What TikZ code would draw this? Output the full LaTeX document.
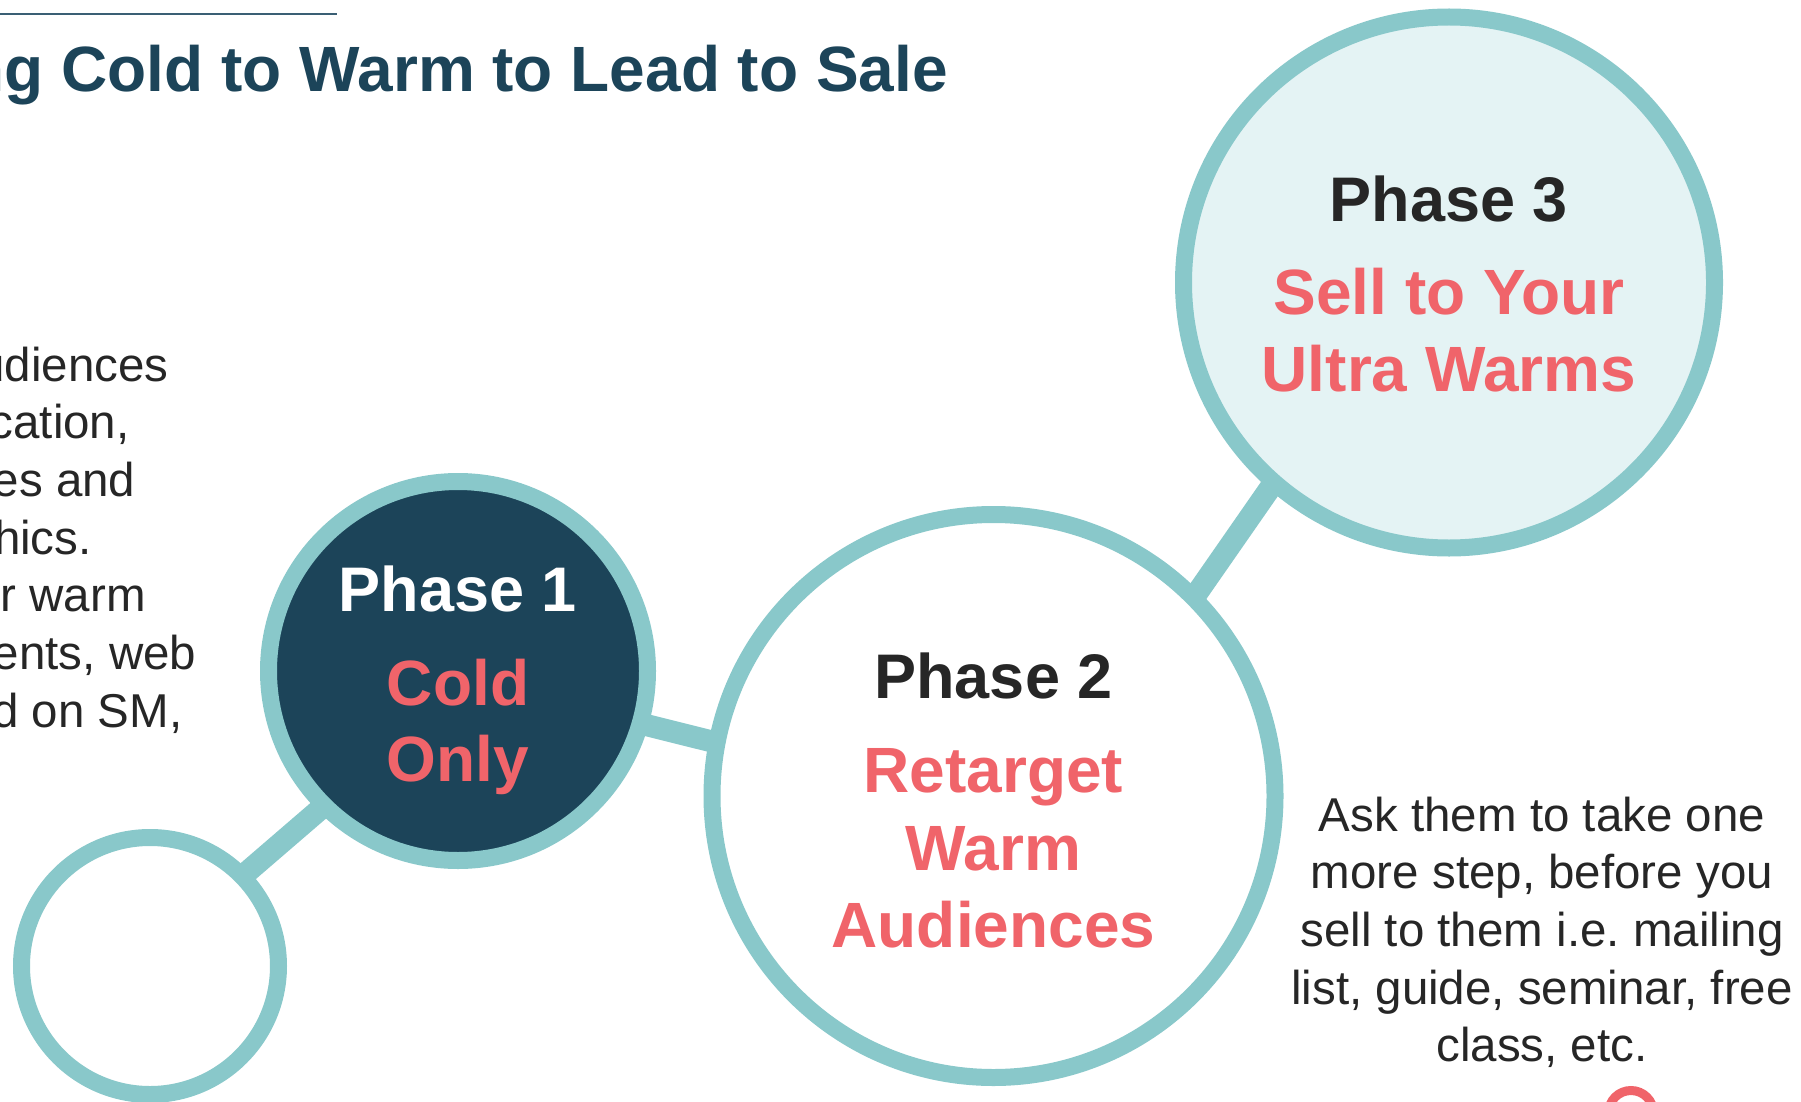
\documentclass[tikz,border=0pt]{standalone}
\usepackage{fontspec}
\setmainfont{Liberation Sans}
\usetikzlibrary{backgrounds}
\frenchspacing

\definecolor{ringc}{HTML}{89C8CA}
\definecolor{navy}{HTML}{1C4459}
\definecolor{pale}{HTML}{E4F3F4}
\definecolor{coral}{HTML}{F0646A}
\definecolor{ink}{HTML}{262626}
\definecolor{rulec}{HTML}{3A5F74}

\tikzset{
  ring/.style={circle, draw=ringc, line width=17pt, inner sep=0pt, minimum size=#1},
  link/.style={draw=ringc, line width=22pt, shorten <=-12pt, shorten >=-12pt},
  phase/.style={font=\fontsize{63}{63}\selectfont\bfseries, text=ink, anchor=base, inner sep=0pt},
  word/.style={font=\fontsize{64}{64}\selectfont\bfseries, text=coral, anchor=base, inner sep=0pt},
  body/.style={font=\fontsize{47.5}{57.7}\selectfont, text=ink, inner sep=0pt},
  lefttext/.style={body, anchor=base east},
  righttext/.style={body, anchor=base},
}

\begin{document}
\begin{tikzpicture}[x=1pt, y=-1pt]
  \useasboundingbox (0,0) rectangle (1801,1102);
  \clip (0,0) rectangle (1801,1102);

  % header rule and title
  \coordinate (ruleA) at (0,13.8);
  \coordinate (ruleB) at (336.7,13.8);
  \draw[rulec, line width=2pt] (ruleA) -- (ruleB);
  \node[anchor=base east, inner sep=0pt, text=navy,
        font=\fontsize{64}{64}\selectfont\bfseries] (title) at (948,92)
        {ng Cold to Warm to Lead to Sale};

  % the phase circles
  \node[ring=257pt, fill=white] (c0) at (150,966) {};
  \node[ring=379pt, fill=navy]  (c1) at (458,671) {};
  \node[ring=563pt, fill=white] (c2) at (993.5,796) {};
  \node[ring=531pt, fill=pale]  (c3) at (1449,282.5) {};

  % small red ring at the lower right
  \node[circle, draw=coral, line width=9pt, inner sep=0pt, minimum size=45pt] (c4) at (1631,1113) {};

  % links between the circles
  \begin{pgfonlayer}{background}
    \draw[link] (c0.44.5) -- (c1.225);
    \draw[link] (c1.-16) -- (c2.169.5);
    \draw[link] (c2.45) -- (c3.229);
  \end{pgfonlayer}

  % phase 1
  \node[phase, text=white] (p1a) at (458,611.7) {Phase 1};
  \node[word] (p1b) at (458,705) {Cold};
  \node[word] (p1c) at (458,781) {Only};

  % phase 2
  \node[phase] (p2a) at (993.5,698.5) {Phase 2};
  \node[word] (p2b) at (993.5,792.5) {Retarget};
  \node[word] (p2c) at (993.5,870) {Warm};
  \node[word] (p2d) at (993.5,947.5) {Audiences};

  % phase 3
  \node[phase] (p3a) at (1449,221.7) {Phase 3};
  \node[word] (p3b) at (1449,314.7) {Sell to Your};
  \node[word] (p3c) at (1449,391.7) {Ultra Warms};

  % notes on the left
  \node[lefttext] (n1) at (168.8,381)   {udiences};
  \node[lefttext] (n2) at (129.8,438.7) {cation,};
  \node[lefttext] (n3) at (135.5,496.4) {es and};
  \node[lefttext] (n4) at (91.9,554.1)  {hics.};
  \node[lefttext] (n5) at (145.9,611.8) {r warm};
  \node[lefttext] (n6) at (196.4,669.5) {ents, web};
  \node[lefttext] (n7) at (182.6,727.2) {d on SM,};

  % notes on the right
  \node[righttext] (m1) at (1542,831)    {Ask them to take one};
  \node[righttext] (m2) at (1542,888.7)  {more step, before you};
  \node[righttext] (m3) at (1542,946.4)  {sell to them i.e. mailing};
  \node[righttext] (m4) at (1542,1004.1) {list, guide, seminar, free};
  \node[righttext] (m5) at (1542,1061.8) {class, etc.};
\end{tikzpicture}
\end{document}
